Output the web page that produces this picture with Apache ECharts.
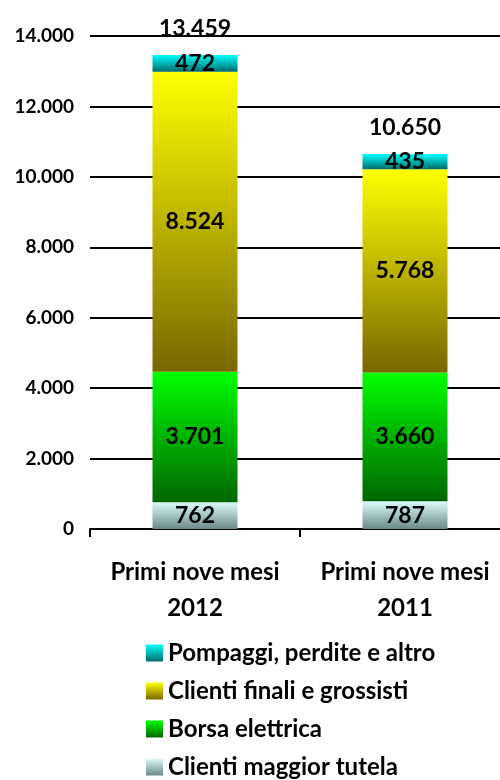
<!DOCTYPE html>
<html>
<head>
<meta charset="utf-8">
<script src="https://cdn.jsdelivr.net/npm/echarts@6/dist/echarts.min.js"></script>
<style>
  html, body { margin: 0; padding: 0; background: #ffffff; }
  #chart { width: 500px; height: 780px; }
</style>
</head>
<body>
<div id="chart"></div>
<script>
// Periods compared
const categories = ['Primi nove mesi\n2012', 'Primi nove mesi\n2011'];

// Stacked components (GWh), bottom to top
const maggiorTutela = [762, 787];
const borsaElettrica = [3701, 3660];
const clientiFinali = [8524, 5768];
const pompaggi = [472, 435];

const seriesNames = [
  'Clienti maggior tutela',
  'Borsa elettrica',
  'Clienti finali e grossisti',
  'Pompaggi, perdite e altro'
];

// Value axis range
const yMin = 0;
const yMax = 14000;
const yStep = 2000;

const totals = categories.map((_, i) =>
  maggiorTutela[i] + borsaElettrica[i] + clientiFinali[i] + pompaggi[i]);

// Italian thousands separator
function fmt(v) {
  return String(Math.round(v)).replace(/\B(?=(\d{3})+(?!\d))/g, '.');
}

function grad(top, bottom) {
  return new echarts.graphic.LinearGradient(0, 0, 0, 1, [
    { offset: 0, color: top },
    { offset: 1, color: bottom }
  ]);
}

const FONT = 'Lato';

const valueLabel = {
  show: true,
  position: 'inside',
  color: '#000',
  fontFamily: FONT,
  fontWeight: 'bold',
  fontSize: 23,
  formatter: p => fmt(p.value)
};

function stackSeries(name, data, top, bottom) {
  return {
    name: name,
    type: 'bar',
    stack: 'tot',
    barWidth: 85,
    data: data,
    itemStyle: { color: grad(top, bottom) },
    label: valueLabel,
    emphasis: { disabled: true }
  };
}

const chart = echarts.init(document.getElementById('chart'), null, { renderer: 'canvas' });

chart.setOption({
  animation: false,
  backgroundColor: '#ffffff',
  grid: {
    left: 90, right: -10, top: 36, bottom: 251,
    containLabel: false,
    outerBoundsMode: 'none'
  },
  legend: {
    orient: 'vertical',
    left: 146,
    top: 641,
    padding: 0,
    itemWidth: 17,
    itemHeight: 17,
    itemGap: 14,
    icon: 'rect',
    selectedMode: false,
    data: [seriesNames[3], seriesNames[2], seriesNames[1], seriesNames[0]],
    textStyle: {
      fontFamily: FONT,
      fontWeight: 'bold',
      fontSize: 24,
      color: '#000'
    }
  },
  xAxis: {
    type: 'category',
    data: categories,
    axisLine: { lineStyle: { color: '#000', width: 2 } },
    axisTick: { show: true, length: 8, lineStyle: { color: '#000', width: 2 } },
    axisLabel: {
      interval: 0,
      margin: 25,
      color: '#000',
      fontFamily: FONT,
      fontWeight: 'bold',
      fontSize: 24,
      lineHeight: 36
    }
  },
  yAxis: {
    type: 'value',
    min: yMin,
    max: yMax,
    interval: yStep,
    axisLine: { show: false },
    axisTick: { show: false },
    splitLine: { lineStyle: { color: '#000', width: 2 } },
    axisLabel: {
      margin: 16,
      color: '#000',
      fontFamily: FONT,
      fontWeight: 'bold',
      fontSize: 19,
      formatter: v => fmt(v)
    }
  },
  series: [
    stackSeries(seriesNames[0], maggiorTutela, '#dcfbfb', '#6a8a8a'),
    stackSeries(seriesNames[1], borsaElettrica, '#00ff00', '#006600'),
    stackSeries(seriesNames[2], clientiFinali, '#ffff00', '#7a6600'),
    stackSeries(seriesNames[3], pompaggi, '#00ffff', '#006b6b'),
    {
      name: 'Totale',
      type: 'bar',
      stack: 'tot',
      barWidth: 85,
      data: categories.map(() => 0),
      itemStyle: { color: 'rgba(0,0,0,0)' },
      label: {
        show: true,
        position: 'top',
        distance: 15,
        color: '#000',
        fontFamily: FONT,
        fontWeight: 'bold',
        fontSize: 23,
        formatter: p => fmt(totals[p.dataIndex])
      },
      emphasis: { disabled: true }
    }
  ]
});
</script>
</body>
</html>
